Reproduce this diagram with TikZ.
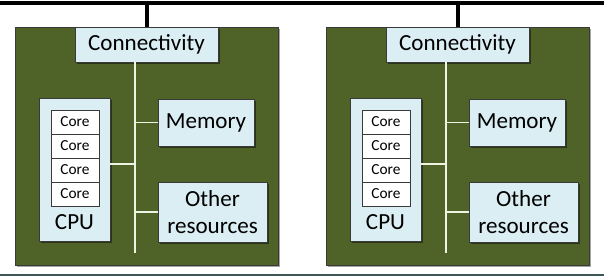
\documentclass[tikz,border=0pt]{standalone}
\usepackage{fontspec}
\setmainfont{Carlito}
\usetikzlibrary{shadows}
\definecolor{olivebox}{HTML}{4F6228}
\definecolor{paleblue}{HTML}{DBEEF4}
\definecolor{edgegray}{HTML}{3A3A3A}
\definecolor{wire}{HTML}{EEF3E2}
\definecolor{bottomline}{HTML}{3E5656}
\tikzset{
  board/.style={draw=edgegray, line width=0.6pt, fill=olivebox, inner sep=0pt,
    minimum width=197.25pt, minimum height=178.5pt,
    drop shadow={shadow xshift=1.5pt, shadow yshift=-1.5pt, opacity=0.35, fill=black}},
  unit/.style={draw=edgegray, line width=0.5pt, fill=paleblue, inner sep=0pt,
    font=\fontsize{17.3}{20.5}\selectfont, align=center,
    drop shadow={shadow xshift=1.2pt, shadow yshift=-1.2pt, opacity=0.45, fill=black}},
  corebox/.style={draw=edgegray, line width=0.5pt, fill=white, inner sep=0pt,
    minimum width=36pt, minimum height=18pt, font=\fontsize{11.5}{13}\selectfont},
  label/.style={inner sep=0pt, font=\fontsize{17.3}{20.5}\selectfont},
  wireline/.style={draw=wire, line width=0.8pt},
  busline/.style={draw=black, line width=3pt}
}
\begin{document}
\begin{tikzpicture}[x=0.75pt, y=-0.75pt]
\useasboundingbox (0,0) rectangle (604,276);
\coordinate (busL) at (0,3);
\coordinate (busR) at (604,3);
\coordinate (botL) at (0,275);
\coordinate (botR) at (604,275);
\draw[busline] (busL) -- (busR);
\draw[bottomline, line width=1.2pt] (botL) -- (botR);
\foreach \i/\dx in {1/0, 2/311} {
  \begin{scope}[shift={(\dx,0)}]
    \node[board] (board\i) at (146.5,146) {};
    \node[unit, minimum width=107.25pt, minimum height=26.25pt] (conn\i) at (146.5,44.5) {Connectivity};
    \draw[busline] (conn\i.north) -- (conn\i.north |- busL);
    \coordinate (spineTop\i) at (135,62);
    \coordinate (spineBot\i) at (135,253);
    \node[unit, minimum width=53.25pt, minimum height=107.25pt] (cpu\i) at (74.5,169.5) {};
    \node[unit, minimum width=72pt, minimum height=35.25pt] (mem\i) at (206,122.5) {Memory};
    \node[unit, minimum width=81.75pt, minimum height=45pt] (other\i) at (212.5,212) {Other\\resources};
    \draw[wireline] (spineTop\i) -- (spineBot\i);
    \draw[wireline] (mem\i.west) -- (mem\i.west -| spineTop\i);
    \draw[wireline] (other\i.west) -- (other\i.west -| spineTop\i);
    \coordinate (cpuTap\i) at (110,164);
    \draw[wireline] (cpuTap\i) -- (cpuTap\i -| spineTop\i);
    \node[corebox] (coreA\i) at (75,122) {Core};
    \node[corebox] (coreB\i) at (75,146) {Core};
    \node[corebox] (coreC\i) at (75,170) {Core};
    \node[corebox] (coreD\i) at (75,194) {Core};
    \node[label] (cpulabel\i) at (74.5,222) {CPU};
  \end{scope}
}
\end{tikzpicture}
\end{document}
